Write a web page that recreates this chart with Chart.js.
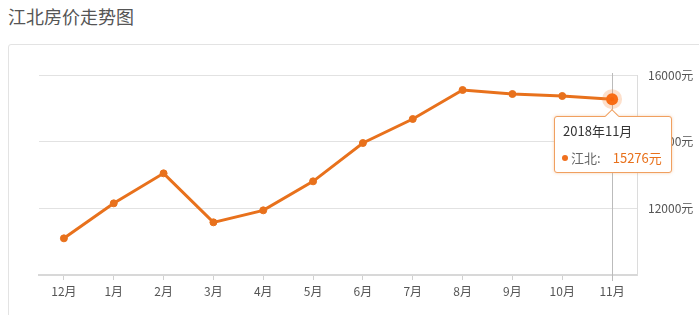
<!DOCTYPE html>
<html>
<head>
<meta charset="utf-8">
<script src="https://cdn.jsdelivr.net/npm/chart.js@4/dist/chart.umd.min.js"></script>
<style>
    body { margin: 0; background: #fff; font-family: "Noto Sans CJK SC", sans-serif; }
    #wrap { position: relative; width: 699px; height: 315px; overflow: hidden; }
    #title { position: absolute; left: 8px; top: 3px; font-size: 18px; color: #555; }
    #card { position: absolute; left: 8px; top: 44px; width: 720px; height: 300px;
            border: 1px solid #e3e3e3; border-radius: 3px; }
    #chartBox { position: absolute; left: 0; top: 0; width: 699px; height: 315px; }
    #tip { position: absolute; display: none; width: 116px; height: 55px; background: #fff;
           border: 1px solid #f0a060; border-radius: 3px; box-shadow: 0 0 3px rgba(240,160,96,0.5);
           font-size: 13px; color: #333; }
    #tip:before { content: ''; position: absolute; left: 52px; top: -6px; width: 9px; height: 9px;
                  background: #fff; border-left: 1px solid #f0a060; border-top: 1px solid #f0a060;
                  transform: rotate(45deg); }
    #tip .t { position: absolute; left: 8px; top: 4px; }
    #tip .b { position: absolute; left: 7px; top: 31px; color: #666; white-space: nowrap; }
    #tip .dot { display: inline-block; width: 6px; height: 6px; border-radius: 3px; background: #f0701e;
                margin-right: 3px; vertical-align: 2px; }
    #tip .v { color: #e8711c; margin-left: 12px; }
</style>
</head>
<body>
<div id="wrap">
    <div id="title">江北房价走势图</div>
    <div id="card"></div>
    <div id="chartBox"><canvas id="priceChart"></canvas></div>
    <div id="tip"></div>
</div>
<script>
// Data
const months = ['12月', '1月', '2月', '3月', '4月', '5月', '6月', '7月', '8月', '9月', '10月', '11月'];
const fullMonths = ['2017年12月', '2018年1月', '2018年2月', '2018年3月', '2018年4月', '2018年5月',
    '2018年6月', '2018年7月', '2018年8月', '2018年9月', '2018年10月', '2018年11月'];
const seriesName = '江北';
const prices = [11100, 12150, 13050, 11580, 11940, 12810, 13960, 14680, 15550, 15430, 15370, 15276];
const activeIndex = 11;

const lineColor = '#e8711c';

// vertical line at the hovered point
const crosshair = {
    id: 'crosshair',
    beforeDatasetsDraw(chart) {
        const act = chart.getActiveElements();
        if (!act.length) return;
        const x = act[0].element.x;
        const ctx = chart.ctx;
        ctx.save();
        ctx.strokeStyle = '#bbb';
        ctx.lineWidth = 1;
        ctx.beginPath();
        ctx.moveTo(Math.round(x) + 0.5, chart.chartArea.top - 2);
        ctx.lineTo(Math.round(x) + 0.5, chart.chartArea.bottom + 6);
        ctx.stroke();
        ctx.restore();
    }
};

// html tooltip
function externalTip(context) {
    const tip = document.getElementById('tip');
    const model = context.tooltip;
    if (model.opacity === 0 || !model.dataPoints || !model.dataPoints.length) {
        tip.style.display = 'none';
        return;
    }
    const p = model.dataPoints[0];
    tip.innerHTML = '<div class="t">' + fullMonths[p.dataIndex] + '</div>' +
        '<div class="b"><span class="dot"></span>' + seriesName + ':<span class="v">' + p.raw + '元</span></div>';
    tip.style.display = 'block';
    tip.style.left = (p.element.x - 58) + 'px';
    tip.style.top = (p.element.y + 17) + 'px';
}

const ctx = document.getElementById('priceChart').getContext('2d');
const priceChart = new Chart(ctx, {
    type: 'line',
    data: {
        labels: months,
        datasets: [{
            label: seriesName,
            data: prices,
            borderColor: lineColor,
            borderWidth: 3,
            backgroundColor: lineColor,
            pointBackgroundColor: lineColor,
            pointBorderColor: lineColor,
            pointRadius: 3.5,
            pointBorderWidth: 1,
            pointHoverRadius: 6,
            pointHoverBackgroundColor: '#f8650a',
            pointHoverBorderColor: 'rgba(248,130,50,0.25)',
            pointHoverBorderWidth: 8,
            tension: 0
        }]
    },
    options: {
        responsive: true,
        maintainAspectRatio: false,
        animation: false,
        events: [],
        layout: { padding: { left: 39, top: 75, right: 0, bottom: 0 } },
        plugins: {
            legend: { display: false },
            tooltip: { enabled: false, external: externalTip }
        },
        scales: {
            x: {
                offset: true,
                grid: { offset: false, drawOnChartArea: false, tickLength: 5, color: '#d0d0d0' },
                border: { color: '#d8d8d8', width: 2 },
                ticks: { color: '#555', padding: 4, font: { family: 'Noto Sans CJK SC', size: 12 } },
                afterFit(scale) { scale.height = 40; }
            },
            y: {
                position: 'right',
                min: 10000,
                max: 16000,
                grid: { color: '#e2e2e2', drawTicks: false },
                border: { color: '#dcdcdc', width: 1 },
                ticks: {
                    stepSize: 2000,
                    padding: 11,
                    color: '#555',
                    font: { family: 'Noto Sans CJK SC', size: 12 },
                    callback: v => v === 10000 ? '' : v + '元'
                },
                afterFit(scale) { scale.width = 62; }
            }
        }
    },
    plugins: [crosshair]
});

// show the hovered state on the last month
const act = [{ datasetIndex: 0, index: activeIndex }];
priceChart.setActiveElements(act);
const el = priceChart.getDatasetMeta(0).data[activeIndex];
priceChart.tooltip.setActiveElements(act, { x: el.x, y: el.y });
priceChart.update();
</script>
</body>
</html>
